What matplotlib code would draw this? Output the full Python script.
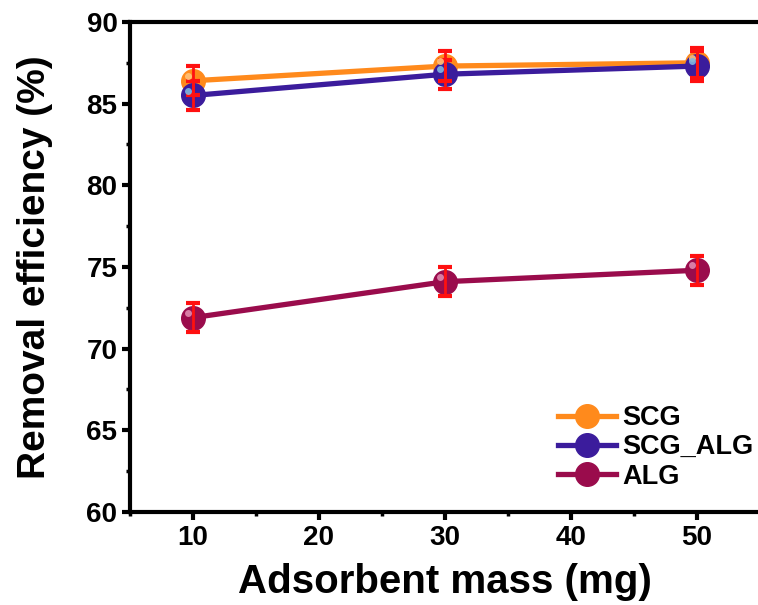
import numpy as np
import matplotlib.pyplot as plt
from matplotlib.ticker import MultipleLocator

plt.rcParams['font.family'] = ['Liberation Sans', 'DejaVu Sans']
plt.rcParams['font.weight'] = 'bold'

# Data
mass = [10, 30, 50]
scg = [86.4, 87.3, 87.5]
scg_err = [0.9, 0.9, 0.9]
scg_alg = [85.5, 86.8, 87.3]
scg_alg_err = [0.9, 0.9, 0.9]
alg = [71.9, 74.1, 74.8]
alg_err = [0.9, 0.9, 0.9]

labels = ['SCG', 'SCG_ALG', 'ALG']
colors = ['#FF8A1C', '#3B1C9C', '#9A0C4C']
highlights = ['#FFC27A', '#7FB8E0', '#E08AB0']

fig = plt.figure(figsize=(7.58, 6.05), dpi=100)
ax = fig.add_axes([0.1715, 0.1537, 0.831, 0.81])

for y, err, c, hl, lab in zip([scg, scg_alg, alg], [scg_err, scg_alg_err, alg_err],
                              colors, highlights, labels):
    ax.plot(mass, y, '-o', color=c, lw=3.8, ms=17, mec=c, mfc=c, label=lab, zorder=3)
    ax.errorbar(mass, y, yerr=err, fmt='none', ecolor='#FF1010', elinewidth=2,
                capsize=5, capthick=3, zorder=4)
    # small highlight to mimic the shaded spheres
    ax.plot(np.array(mass) - 0.4, np.array(y) + 0.3, 'o', color=hl, ms=5,
            mec='none', zorder=5, alpha=0.9)

ax.set_xlim(5, 55)
ax.set_ylim(60, 90)
ax.xaxis.set_major_locator(MultipleLocator(10))
ax.xaxis.set_minor_locator(MultipleLocator(5))
ax.yaxis.set_major_locator(MultipleLocator(5))
ax.yaxis.set_minor_locator(MultipleLocator(2.5))
ax.tick_params(which='major', direction='out', length=6, width=3, labelsize=20, pad=3)
ax.tick_params(which='minor', direction='out', length=3, width=2.5)
for s in ['left', 'top', 'bottom']:
    ax.spines[s].set_linewidth(3)
ax.spines['right'].set_visible(False)

ax.set_xlabel('Adsorbent mass (mg)', fontsize=29, fontweight='bold', labelpad=9)
ax.set_ylabel('Removal efficiency (%)', fontsize=28, fontweight='bold', labelpad=24)

ax.legend(loc='upper left', bbox_to_anchor=(0.64, 0.268), frameon=False,
          fontsize=19.5, handlelength=2.15, handletextpad=0.25, labelspacing=0.12,
          borderpad=0.4)

fig.savefig('out.png', dpi=100)
